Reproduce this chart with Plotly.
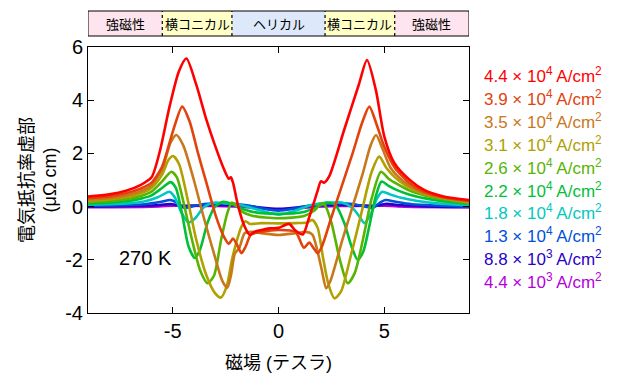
import plotly.graph_objects as go

# ---------------- data ----------------
current_mantissa = ["4.4", "3.9", "3.5", "3.1", "2.6", "2.2", "1.8", "1.3", "8.8", "4.4"]
current_exponent = [4, 4, 4, 4, 4, 4, 4, 4, 3, 3]
colors = ["#ff0000", "#e2420c", "#c8781a", "#b0a000", "#58b400", "#00c038",
          "#00c8c0", "#0050dc", "#2a00c8", "#b400dc"]

H_44e4 = [-9, -8, -7.2, -6.5, -6.0, -5.6, -5.15, -4.7, -4.35, -3.9, -3.4, -3.0, -2.6, -2.35, -2.25, -2.15,
          -1.9, -1.6, -1.35, -1.15, -0.8, -0.4, 0, 0.5, 0.8, 1.15, 1.45, 1.85, 2.0, 2.15, 2.4, 3.1, 3.8,
          4.18, 4.6, 5.0, 5.47, 6.2, 6.9, 7.8, 9]
V_44e4 = [0.38, 0.46, 0.6, 0.82, 1.1, 2.1, 3.75, 5.1, 5.57, 4.62, 3.25, 2.3, 1.45, 1.05, 1.1, 0.9,
          0.0, -0.75, -1.07, -0.95, -0.88, -0.82, -0.8, -0.65, -0.9, -1.05, -0.4, 0.6, 0.95, 0.9, 1.15, 2.88, 4.6,
          5.51, 4.38, 2.63, 1.64, 1.0, 0.62, 0.38, 0.25]

H_39e4 = [-9, -8, -7.2, -6.5, -6.0, -5.5, -5.0, -4.55, -4.2, -3.8, -3.4, -2.95, -2.6, -2.35, -2.15, -1.95,
          -1.75, -1.55, -1.3, -0.8, 0, 0.8, 1.2, 1.45, 1.65, 1.85, 2.05, 2.5, 3.0, 3.5, 3.95, 4.29, 4.65,
          5.0, 5.5, 6.2, 6.9, 7.8, 9]
V_39e4 = [0.32, 0.38, 0.5, 0.68, 0.9, 1.5, 2.8, 3.76, 3.2, 2.0, 0.88, -0.38, -1.1, -1.4, -1.2, -1.45,
          -1.75, -1.5, -1.05, -0.95, -0.88, -0.95, -1.55, -1.35, -1.55, -1.75, -1.5, -0.4, 0.8, 2.0, 3.15, 3.76, 3.05,
          2.25, 1.45, 0.88, 0.55, 0.35, 0.22]

H_35e4 = [-9, -8, -7.2, -6.5, -6.0, -5.5, -5.1, -4.83, -4.5, -4.0, -3.5, -3.0, -2.65, -2.42, -2.25, -2.06,
          -1.85, -1.6, -1.3, -0.8, 0, 0.8, 1.3, 1.6, 1.85, 2.05, 2.25, 2.45, 3.0, 3.5, 4.0, 4.35, 4.61,
          4.9, 5.3, 5.9, 6.6, 7.5, 9]
V_35e4 = [0.27, 0.32, 0.42, 0.58, 0.8, 1.4, 2.4, 2.69, 2.3, 1.0, -0.5, -1.9, -2.8, -3.05, -2.6, -1.76,
          -1.55, -1.0, -0.95, -1.0, -1.07, -1.0, -0.95, -1.05, -1.7, -2.4, -3.07, -2.8, -1.3, 0.0, 1.3, 2.3, 2.69,
          2.2, 1.45, 0.95, 0.6, 0.38, 0.19]

H_31e4 = [-9, -8, -7.2, -6.5, -6.0, -5.5, -5.2, -4.98, -4.7, -4.3, -3.9, -3.4, -3.0, -2.72, -2.45, -2.2,
          -2.0, -1.75, -1.55, -1.35, -0.8, 0, 0.8, 1.35, 1.6, 1.85, 2.1, 2.35, 2.64, 2.95, 3.4, 3.9, 4.4,
          4.76, 5.1, 5.5, 6.0, 6.6, 7.5, 9]
V_31e4 = [0.22, 0.27, 0.35, 0.5, 0.7, 1.2, 1.75, 1.9, 1.6, 0.3, -1.2, -2.6, -3.25, -3.42, -3.0, -2.0,
          -1.37, -0.75, -0.55, -0.65, -0.62, -0.63, -0.62, -0.6, -0.5, -0.8, -1.9, -2.9, -3.45, -3.2, -1.9, -0.3, 1.3,
          1.88, 1.45, 1.1, 0.8, 0.55, 0.35, 0.16]

H_26e4 = [-9, -8, -7.2, -6.5, -6.0, -5.5, -5.06, -4.8, -4.5, -4.1, -3.7, -3.35, -3.05, -2.7, -2.4, -2.2,
          -2.0, -1.7, -1.2, 0, 1.2, 1.7, 2.0, 2.2, 2.5, 2.9, 3.27, 3.6, 4.0, 4.4, 4.84, 5.2, 5.6, 6.2,
          7.0, 8.0, 9]
V_26e4 = [0.17, 0.21, 0.28, 0.4, 0.56, 0.95, 1.31, 1.1, 0.2, -1.2, -2.4, -2.88, -2.6, -1.2, -0.2, 0.15,
          0.05, -0.2, -0.35, -0.44, -0.35, -0.15, 0.12, 0.05, -0.6, -2.0, -2.88, -2.5, -1.2, 0.3, 1.31, 1.05, 0.85, 0.6,
          0.4, 0.25, 0.13]

H_22e4 = [-9, -8, -7.2, -6.5, -6.0, -5.5, -5.1, -4.85, -4.55, -4.25, -3.95, -3.7, -3.35, -3.0, -2.6, -2.2,
          -1.8, -1.2, 0, 1.2, 1.8, 2.3, 2.7, 3.1, 3.45, 3.74, 4.0, 4.3, 4.6, 4.87, 5.2, 5.6, 6.2, 7.0,
          8.0, 9]
V_22e4 = [0.12, 0.15, 0.2, 0.3, 0.42, 0.7, 0.92, 0.7, -0.3, -1.5, -1.93, -1.6, -0.6, 0.0, 0.18, 0.1,
          -0.05, -0.2, -0.27, -0.2, -0.02, 0.15, 0.05, -0.6, -1.5, -2.0, -1.7, -0.7, 0.4, 0.94, 0.78, 0.62, 0.45, 0.3,
          0.18, 0.1]

H_18e4 = [-9, -8, -7, -6.3, -5.7, -5.15, -4.9, -4.6, -4.25, -3.95, -3.5, -3.0, -2.5, -2.0, -1.5, -0.8,
          0, 0.8, 1.5, 2.0, 2.5, 3.0, 3.5, 3.8, 4.06, 4.35, 4.65, 4.9, 5.3, 5.8, 6.5, 7.5, 9]
V_18e4 = [0.07, 0.09, 0.13, 0.2, 0.35, 0.56, 0.35, -0.2, -0.6, -0.45, 0.0, 0.15, 0.12, 0.1, 0.0, -0.15,
          -0.3, -0.15, 0.05, 0.12, 0.15, 0.15, -0.05, -0.35, -0.62, -0.3, 0.3, 0.56, 0.45, 0.33, 0.22, 0.12, 0.05]

H_13e4 = [-9, -7.5, -6.3, -5.6, -5.1, -4.8, -4.45, -4.1, -3.5, -2.5, -1.5, -0.7, 0, 0.7, 1.5, 2.5,
          3.5, 4.1, 4.45, 4.8, 5.05, 5.6, 6.3, 7.5, 9]
V_13e4 = [0.03, 0.05, 0.09, 0.17, 0.25, 0.15, -0.05, 0.0, 0.1, 0.12, 0.05, -0.08, -0.15, -0.08, 0.05, 0.12,
          0.1, 0.0, -0.05, 0.15, 0.25, 0.17, 0.09, 0.04, 0.0]

H_88e3 = [-9, -7, -5.8, -5.1, -4.6, -4.2, -3, -1.5, 0, 1.5, 3, 4.2, 4.6, 5.05, 5.8, 7, 9]
V_88e3 = [0.0, 0.02, 0.05, 0.1, 0.02, 0.03, 0.06, 0.02, -0.08, 0.02, 0.06, 0.03, 0.02, 0.1, 0.05, 0.01, -0.01]

H_44e3 = [-9, -6, -5, -3, -1.5, -0.6, 0, 0.6, 1.5, 3, 5, 6, 9]
V_44e3 = [-0.02, 0.0, 0.03, 0.02, -0.02, -0.08, -0.12, -0.08, -0.02, 0.02, 0.03, 0.0, -0.02]

curves_H = [H_44e4, H_39e4, H_35e4, H_31e4, H_26e4, H_22e4, H_18e4, H_13e4, H_88e3, H_44e3]
curves_V = [V_44e4, V_39e4, V_35e4, V_31e4, V_26e4, V_22e4, V_18e4, V_13e4, V_88e3, V_44e3]

phase_edges = [-9, -5.49, -2.2, 2.2, 5.49, 9]
phase_labels = ["強磁性", "横コニカル", "ヘリカル", "横コニカル", "強磁性"]
phase_colors = ["#fde4ee", "#ffffc6", "#dde8fa", "#ffffc6", "#fde4ee"]

x_ticks = [-5, 0, 5]
y_ticks = [-4, -2, 0, 2, 4, 6]
temperature_label = "270 K"

# ---------------- figure ----------------
FONT = "Liberation Sans, Arial, Noto Sans CJK JP, sans-serif"
CJK = "Noto Sans CJK JP, sans-serif"

# page body has an 8px default margin; plot area target: x 88..469, y 47..313
OFF = 8
W, Hh = 620 - OFF, 387 - OFF
ML, MR, MT, MB = 88 - OFF, 151, 47 - OFF, 74
PLOT_H = Hh - MT - MB

def py(ypx):
    """page pixel y -> paper coordinate"""
    return (313 - ypx) / PLOT_H

fig = go.Figure()
labels = [f"{m} × 10<sup>{e}</sup> A/cm<sup>2</sup>" for m, e in zip(current_mantissa, current_exponent)]

for i in reversed(range(len(curves_H))):
    fig.add_trace(go.Scatter(
        x=curves_H[i], y=curves_V[i], mode="lines", name=labels[i],
        line=dict(color=colors[i], width=2.6, shape="spline", smoothing=0.7),
        showlegend=False,
    ))

shapes = []
bar_y0, bar_y1 = py(36), py(11)
for k in range(len(phase_labels)):
    shapes.append(dict(type="rect", xref="x", yref="paper",
                       x0=phase_edges[k], x1=phase_edges[k + 1], y0=bar_y0, y1=bar_y1,
                       fillcolor=phase_colors[k], line=dict(width=0), layer="above"))
for k in range(1, len(phase_edges) - 1):
    shapes.append(dict(type="line", xref="x", yref="paper",
                       x0=phase_edges[k], x1=phase_edges[k], y0=bar_y0, y1=bar_y1,
                       line=dict(color="black", width=1.2, dash="dot"), layer="above"))
shapes.append(dict(type="rect", xref="x", yref="paper",
                   x0=phase_edges[0], x1=phase_edges[-1], y0=bar_y0, y1=bar_y1,
                   line=dict(color="black", width=1), fillcolor="rgba(0,0,0,0)", layer="above"))

annotations = []
for k, lab in enumerate(phase_labels):
    annotations.append(dict(xref="x", yref="paper", x=(phase_edges[k] + phase_edges[k + 1]) / 2,
                            y=(bar_y0 + bar_y1) / 2, text=lab, showarrow=False,
                            font=dict(family=CJK, size=13, color="black"),
                            xanchor="center", yanchor="middle"))

# legend as coloured text
for i, lab in enumerate(labels):
    ypx = 75 + i * 22.9
    annotations.append(dict(xref="paper", yref="paper", x=(482 - 88) / 381, y=py(ypx),
                            text=lab, showarrow=False, xanchor="left", yanchor="middle",
                            font=dict(family=FONT, size=17, color=colors[i])))

annotations.append(dict(xref="x", yref="y", x=-6.3, y=-1.94, text=temperature_label, showarrow=False,
                        font=dict(family=FONT, size=20, color="black"), xanchor="center", yanchor="middle"))

annotations.append(dict(xref="paper", yref="paper", x=(38 - 88) / 381, y=py(180),
                        text="電気抵抗率虚部<br>(μΩ cm)", textangle=-90, showarrow=False,
                        font=dict(family=FONT, size=18, color="black"),
                        xanchor="center", yanchor="middle"))
annotations.append(dict(xref="paper", yref="paper", x=0.5, y=py(363),
                        text="磁場 (テスラ)", showarrow=False,
                        font=dict(family=FONT, size=18, color="black"),
                        xanchor="center", yanchor="middle"))

fig.update_layout(
    width=W, height=Hh,
    margin=dict(l=ML, r=MR, t=MT, b=MB),
    paper_bgcolor="white", plot_bgcolor="white",
    shapes=shapes, annotations=annotations,
    font=dict(family=FONT, color="black"),
)
fig.update_xaxes(range=[-9, 9], tickvals=x_ticks, ticktext=[str(t) for t in x_ticks],
                 ticks="inside", ticklen=6, tickwidth=1, tickcolor="black",
                 showline=True, linecolor="black", linewidth=1, mirror="ticks",
                 showgrid=False, zeroline=False, tickfont=dict(family=FONT, size=20))
fig.update_yaxes(range=[-4, 6], tickvals=y_ticks, ticktext=[str(t) for t in y_ticks],
                 ticks="inside", ticklen=6, tickwidth=1, tickcolor="black",
                 showline=True, linecolor="black", linewidth=1, mirror="ticks",
                 showgrid=False, zeroline=False, tickfont=dict(family=FONT, size=20))

fig.write_html("out.html")
